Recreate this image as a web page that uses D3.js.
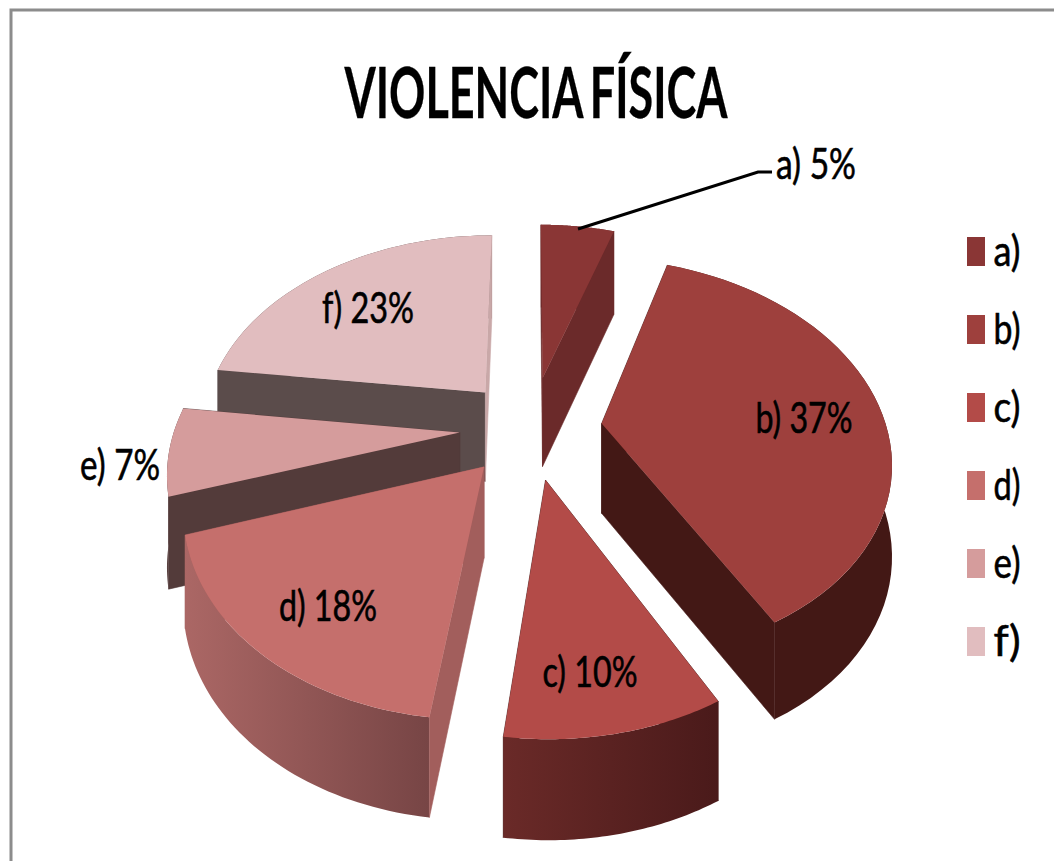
<!DOCTYPE html>
<html><head><meta charset="utf-8">
<script src="https://cdn.jsdelivr.net/npm/d3@7"></script>
<style>html,body{margin:0;padding:0;background:#fff}svg{display:block}text{font-family:Lato,"Open Sans",sans-serif;fill:#000}</style>
</head><body><svg id="c" width="1054" height="861"></svg>
<script>
const categories=["a)","b)","c)","d)","e)","f)"];
const values=[5,37,10,18,7,23];
const topColors=["#8a3635","#9e403d","#b34b48","#c56f6c","#d59c9c","#e1bdbf"];
const cutColors=["#6b2a2a","#431815","#431815","#a25e5c","#533b3a","#5b4c4b"];
const endCutColors=["#6b2a2a","#431815","#431815","#a25e5c","#533b3a","#c9a8a8"];
const rimLeft=["#6b2a2a","#431815","#6a2a28","#ab6765","#5a4140","#5b4c4b"];
const rimRight=["#6b2a2a","#431815","#4a1a1a","#774545","#5a4140","#5b4c4b"];
const drawOrder=[0,5,4,1,3,2];
const explode=[0.27,0.25,0.26,0.25,0.25,0.25];
const labelCenters=[[816,164],[804,418],[590,672],[328,606],[120,465],[368,308]];
const labelWidths=[80,97,95,98,80,92];
const title="VIOLENCIA FÍSICA";

const cx=531,cy=428,Rx=285,Ry=195,k=0.17,depth=90;
const svg=d3.select("#c");
const defs=svg.append("defs");
const project=(u,v,dz=0)=>{const s=1/(1+k*v);return [cx+Rx*u*s,cy-Ry*v*s+dz*(0.55+0.45*s)];};
const arcs=d3.pie().sort(null).value(d=>d)(values);

svg.append("path").attr("d","M11,861V10H1054").attr("fill","none").attr("stroke","#8c8c8c").attr("stroke-width",3);

const line=d3.line();
arcs.forEach((a,i)=>{
  const g=defs.append("linearGradient").attr("id","rim"+i);
  g.append("stop").attr("offset","0").attr("stop-color",rimLeft[i]);
  g.append("stop").attr("offset","1").attr("stop-color",rimRight[i]);
});
drawOrder.forEach(i=>{
  const a=arcs[i],mid=(a.startAngle+a.endAngle)/2;
  const ou=explode[i]*Math.sin(mid),ov=explode[i]*Math.cos(mid);
  const n=48;
  const rim=d3.range(n+1).map(j=>{const t=a.startAngle+(a.endAngle-a.startAngle)*j/n;return [ou+Math.sin(t),ov+Math.cos(t)];});
  const apex=[ou,ov];
  const top=pts=>pts.map(p=>project(p[0],p[1]));
  const bot=pts=>pts.map(p=>project(p[0],p[1],depth));
  const sweep=pts=>line(top(pts).concat(bot(pts).reverse()))+"Z";
  const g=svg.append("g");
  const startFront=Math.cos(a.startAngle-Math.PI/2)<0.01;
  const endFront=Math.cos(a.endAngle+Math.PI/2)<0.01;
  const startCut=()=>g.append("path").attr("d",sweep([apex,rim[0]])).attr("fill",cutColors[i]).attr("stroke",cutColors[i]).attr("stroke-width",0.6);
  const endCut=()=>g.append("path").attr("d",sweep([apex,rim[n]])).attr("fill",endCutColors[i]).attr("stroke",endCutColors[i]).attr("stroke-width",0.6);
  if(!startFront)startCut();
  if(!endFront)endCut();
  g.append("path").attr("d",sweep(rim)).attr("fill",`url(#rim${i})`);
  if(startFront)startCut();
  if(endFront)endCut();
  g.append("path").attr("d",line(top([apex,...rim]))+"Z").attr("fill",topColors[i]);
});

function fitText(str,xc,yBase,fontSize,width,weight,sw,ws){
  const t=svg.append("text").attr("font-size",fontSize).attr("font-weight",weight||400).attr("stroke","#000").attr("stroke-width",sw||0.6).attr("word-spacing",ws||0).text(str);
  const w=t.node().getComputedTextLength();
  t.attr("text-anchor","middle").attr("transform",`translate(${xc},${yBase}) scale(${width/w},1)`);
  return t;
}
fitText(title,536,118,70,383,700,0.3,-5);
arcs.forEach((a,i)=>{
  const [x,y]=labelCenters[i];
  fitText(`${categories[i]} ${values[i]}%`,x,y+15,42,labelWidths[i]);
});
svg.append("path").attr("d","M578,229L758,172H772").attr("fill","none").attr("stroke","#000").attr("stroke-width",3);

const legendY=d3.scalePoint().domain(categories).range([252,642]);
categories.forEach((c,i)=>{
  svg.append("rect").attr("x",967).attr("y",legendY(c)-15).attr("width",18).attr("height",29).attr("fill",topColors[i]);
  fitText(c,1007,legendY(c)+14,42,27);
});
</script></body></html>
